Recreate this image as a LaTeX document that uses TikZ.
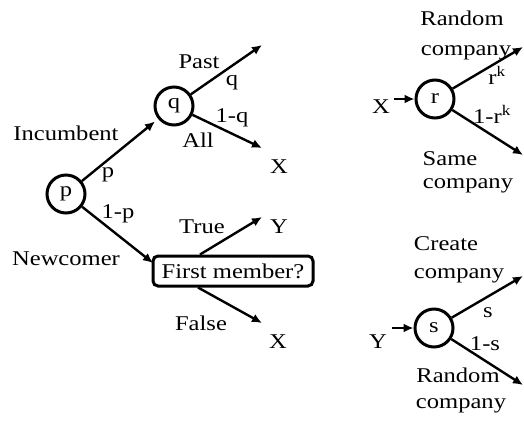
\documentclass[tikz,border=0pt]{standalone}
\usepackage{fontspec}
\setmainfont{Liberation Serif}[FakeStretch=1.17]
\usetikzlibrary{arrows.meta}
\tikzset{
  every node/.style={font=\fontsize{21}{24}\selectfont, inner sep=0pt},
  lbl/.style={anchor=base},
  chance/.style={circle, draw, line width=3pt, minimum size=38pt, inner sep=0pt},
  decbox/.style={draw, line width=3pt, rounded corners=5pt, minimum width=160pt, minimum height=30pt},
  arr/.style={line width=2.4pt, -{Latex[length=10pt,width=9pt]}},
}
\begin{document}
\begin{tikzpicture}[x=1pt,y=-1pt]
\useasboundingbox (0,0) rectangle (524,421);
% left tree
\node[chance] (p) at (66,194) {};
\node at (66,194) {p};
\node[chance] (q) at (174,106) {};
\node at (174,106) {q};
\node[decbox] (box) at (233,271) {};
\node[lbl] at (233,278) {First member?};
\coordinate (qtop) at (262,45);
\coordinate (qbot) at (262,148);
\coordinate (btop) at (262,217);
\coordinate (bbot) at (262,323);
\coordinate (bin) at (153,263);
\draw[arr, shorten >=4pt] (p) -- (q);
\draw[arr] (p) -- (bin);
\draw[arr] (q) -- (qtop);
\draw[arr] (q) -- (qbot);
\draw[arr] ([xshift=-33pt]box.north) -- (btop);
\draw[arr] ([xshift=-35pt]box.south) -- (bbot);
\node[lbl] (incumbent) at (66,140) {Incumbent};
\node[lbl] (plab) at (108,177) {p};
\node[lbl] (onep) at (118,218) {1-p};
\node[lbl] (newcomer) at (66,265) {Newcomer};
\node[lbl] (past) at (199,68) {Past};
\node[lbl] (qlab) at (232,85) {q};
\node[lbl] (oneq) at (232,122) {1-q};
\node[lbl] (all) at (198,147) {All};
\node[lbl] (x1) at (279,173) {X};
\node[lbl] (true) at (202,233) {True};
\node[lbl] (y1) at (279,233) {Y};
\node[lbl] (false) at (201,330) {False};
\node[lbl] (x2) at (278,348) {X};
% right top
\node[chance] (r) at (435,99) {};
\node at (435,99) {r};
\node[lbl] (xr) at (381,113) {X};
\coordinate (rtop) at (523,47);
\coordinate (rbot) at (523,155);
\draw[arr, shorten <=4pt] (xr.east |- r) -- (r);
\draw[arr] (r) -- (rtop);
\draw[arr] (r) -- (rbot);
\node[lbl] at (462,25) {Random};
\node[lbl] at (466,55) {company};
\node[lbl] at (497,84) {r\textsuperscript{k}};
\node[lbl] at (492,123) {1-r\textsuperscript{k}};
\node[lbl] at (450,165) {Same};
\node[lbl] at (468,188) {company};
% right bottom
\node[chance] (s) at (434,328) {};
\node at (434,328) {s};
\node[lbl] (ys) at (378,348) {Y};
\coordinate (stop) at (523,276);
\coordinate (sbot) at (523,385);
\draw[arr, shorten <=5pt] (ys.east |- s) -- (s);
\draw[arr] (s) -- (stop);
\draw[arr] (s) -- (sbot);
\node[lbl] at (446,250) {Create};
\node[lbl] at (459,278) {company};
\node[lbl] at (488,317) {s};
\node[lbl] at (485,350) {1-s};
\node[lbl] at (458,382) {Random};
\node[lbl] at (461,408) {company};
\end{tikzpicture}
\end{document}
